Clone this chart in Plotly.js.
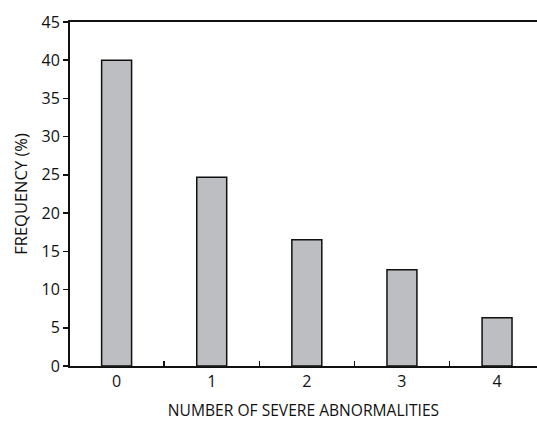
<!DOCTYPE html>
<html>
<head>
<meta charset="utf-8">
<script src="https://cdn.plot.ly/plotly-3.0.1.min.js"></script>
<style>html,body{margin:0;padding:0;background:#fff;}#chart{width:537px;height:422px;}</style>
</head>
<body>
<div id="chart"></div>
<script>
const categories = [0, 1, 2, 3, 4];
const frequency = [40, 24.7, 16.5, 12.6, 6.3];
const yTicks = [0, 5, 10, 15, 20, 25, 30, 35, 40, 45];
const dividerTicks = [0.5, 1.5, 2.5, 3.5];

const fam = '"Open Sans", "Noto Sans", sans-serif';
const tickFont = {family: fam, size: 16, color: '#111'};
const xTitleFont = {family: fam, size: 15.6, color: '#111'};
const yTitleFont = {family: fam, size: 16.5, color: '#111'};

const data = [{
  type: 'bar',
  x: categories,
  y: frequency,
  width: 0.315,
  marker: {color: '#bdbec2', line: {color: '#111', width: 1.5}},
  hoverinfo: 'skip'
}, {
  type: 'scatter', x: [0], y: [0], xaxis: 'x2', mode: 'none', hoverinfo: 'skip', showlegend: false
}];

const layout = {
  width: 537, height: 422,
  margin: {l: 70, r: 0, t: 22, b: 56},
  paper_bgcolor: '#fff', plot_bgcolor: '#fff',
  showlegend: false,
  font: tickFont,
  xaxis: {
    range: [-0.49, 4.42],
    tickvals: categories,
    ticktext: categories.map(String),
    ticks: '',
    showline: true, linecolor: '#111', linewidth: 2,
    mirror: true,
    showgrid: false, zeroline: false,
    tickfont: tickFont,
    title: {text: 'NUMBER OF SEVERE ABNORMALITIES', font: xTitleFont, standoff: 14}
  },
  xaxis2: {
    overlaying: 'x', matching: 'x', range: [-0.49, 4.42],
    tickvals: dividerTicks, ticks: 'inside', ticklen: 5, tickwidth: 1.5, tickcolor: '#111',
    showticklabels: false, showgrid: false, zeroline: false, showline: false
  },
  yaxis: {
    range: [0, 45],
    tickvals: yTicks,
    ticks: 'outside', ticklen: 5, tickwidth: 1.5, tickcolor: '#111',
    showline: true, linecolor: '#111', linewidth: 2,
    showgrid: false, zeroline: false,
    tickfont: tickFont,
    title: {text: 'FREQUENCY (%)', font: yTitleFont, standoff: 10}
  }
};

Plotly.newPlot('chart', data, layout, {displayModeBar: false, staticPlot: true});
</script>
</body>
</html>
